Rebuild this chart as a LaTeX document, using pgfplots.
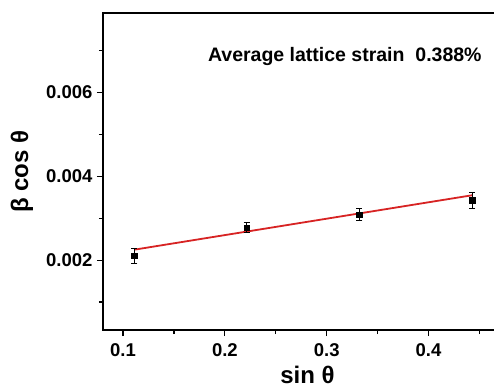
\documentclass[border=0pt]{standalone}
\usepackage{fontspec}
\setmainfont{Liberation Sans}
\usepackage{pgfplots}
\pgfplotsset{compat=1.18}
\definecolor{fitred}{RGB}{215,35,35}
\begin{document}
\begin{tikzpicture}
\begin{axis}[
  scale only axis,
  width=409pt, height=317pt,
  xmin=0.0803, xmax=0.482,
  ymin=0.000333, ymax=0.0079,
  scaled y ticks=false, scaled x ticks=false,
  axis line style={line width=1.6pt},
  tick align=outside,
  xtick pos=bottom, ytick pos=left,
  major tick length=6pt, minor tick length=4pt,
  every tick/.style={black, line width=1.2pt},
  xtick={0.1,0.2,0.3,0.4}, xticklabels={0.1,0.2,0.3,0.4},
  minor xtick={0.15,0.25,0.35,0.45},
  ytick={0.002,0.004,0.006}, yticklabels={0.002,0.004,0.006},
  minor ytick={0.001,0.003,0.005,0.007},
  ticklabel style={font=\bfseries\fontsize{18.5}{20}\selectfont},
  xticklabel style={yshift=-4pt},
  yticklabel style={xshift=-1pt},
  xlabel={sin θ}, ylabel={β cos θ},
  label style={font=\bfseries\fontsize{24}{26}\selectfont},
  xlabel style={at={(axis description cs:0.5,-0.168)}, anchor=base},
  ylabel style={at={(axis description cs:-0.198,0.5)}, anchor=center, rotate=0},
]
\coordinate (bl) at (rel axis cs:0,0);
\addplot[fitred, line width=1.8pt] coordinates {(0.111,0.00225) (0.443,0.00355)};
\addplot[only marks, mark=square*, mark size=2.6pt, black,
  error bars/.cd, y dir=both, y explicit,
  error bar style={line width=0.9pt, black},
  error mark options={rotate=90, mark size=3pt, line width=0.9pt}]
  coordinates {
  (0.111,0.00210) +- (0,0.00018)
  (0.2213,0.00278) +- (0,0.00011)
  (0.332,0.00309) +- (0,0.00014)
  (0.443,0.00343) +- (0,0.00019)
  };
\node[anchor=base west, font=\bfseries\fontsize{19.5}{21}\selectfont, inner sep=0pt] at (axis cs:0.1833,0.00675) {Average lattice strain\ \ 0.388\%};
\end{axis}
\pgfresetboundingbox
\useasboundingbox ([shift={(-103pt,-58pt)}]bl) rectangle ([shift={(391pt,330pt)}]bl);
\end{tikzpicture}
\end{document}
